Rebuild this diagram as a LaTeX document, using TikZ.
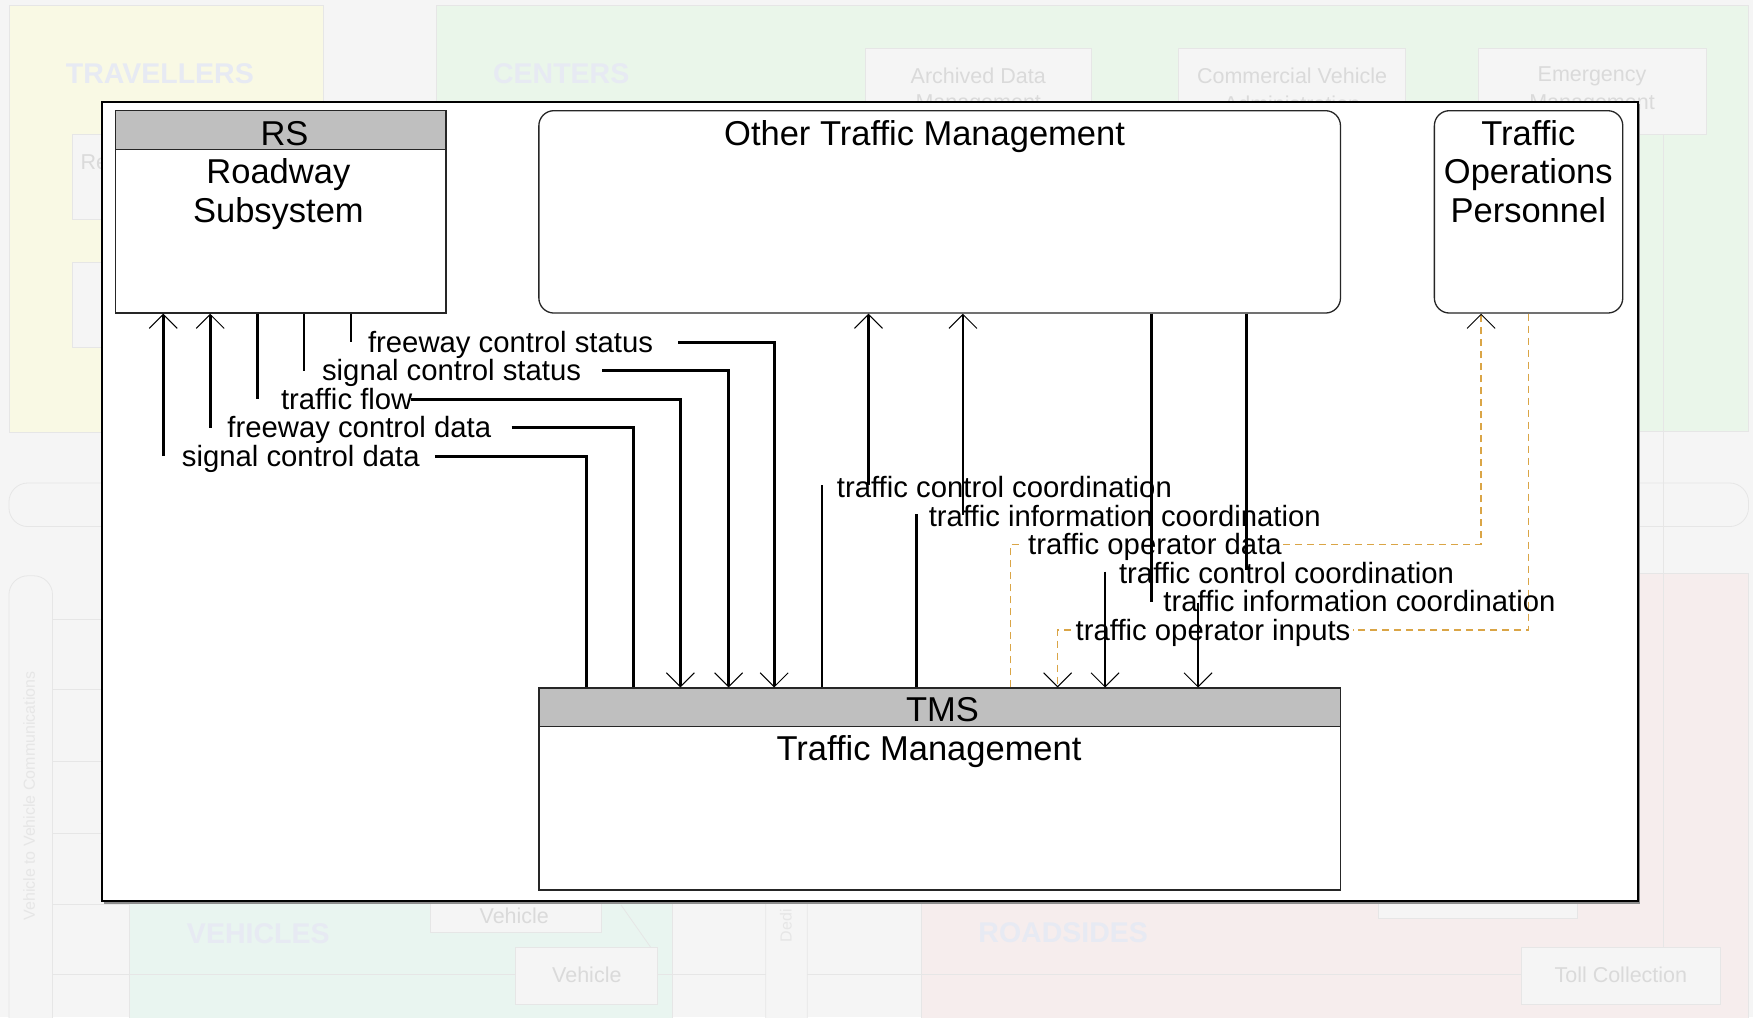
\documentclass[tikz,border=0pt]{standalone}
\usepackage{fontspec}
\setmainfont{Liberation Sans}
\usetikzlibrary{arrows.meta,fit}
\definecolor{pagebg}{RGB}{245,245,245}
\definecolor{travbg}{RGB}{249,249,228}
\definecolor{centbg}{RGB}{234,246,234}
\definecolor{vehbg}{RGB}{233,245,240}
\definecolor{roadbg}{RGB}{246,237,237}
\definecolor{ghostline}{RGB}{230,230,230}
\definecolor{ghosttitle}{RGB}{231,234,243}
\definecolor{ghosttext}{RGB}{218,218,218}
\definecolor{ghostfill}{RGB}{245,245,245}
\definecolor{hdrgray}{RGB}{191,191,191}
\definecolor{opdash}{RGB}{218,165,70}
\newcommand\bigfnt{\fontsize{34.5}{38}\selectfont}
\newcommand\lblfnt{\fontsize{29.3}{32}\selectfont}
\newcommand\ghostfnt{\fontsize{21.5}{25}\selectfont}
\newcommand\barfnt{\fontsize{16}{18}\selectfont}
\newcommand\regionfnt{\fontsize{28.5}{30}\selectfont\bfseries}
\begin{document}
\begin{tikzpicture}[x=1.118pt,y=-1.118pt,
  ghostpanel/.style={draw=ghostline, line width=0.8pt},
  ghostbox/.style={draw=ghostline, fill=ghostfill, line width=0.8pt},
  ghostlbl/.style={text=ghosttext, font=\ghostfnt, inner sep=0pt},
  barlbl/.style={text=ghostline, font=\barfnt, inner sep=0pt},
  regionlbl/.style={text=ghosttitle, font=\regionfnt, inner sep=0pt},
  sysbox/.style={draw=black!85, line width=1.3pt, fill=white, inner sep=0pt},
  termbox/.style={sysbox, rounded corners=15pt},
  hdr/.style={draw=black!85, line width=1.3pt, fill=hdrgray},
  bigtxt/.style={font=\bigfnt, inner sep=0pt, anchor=base},
  lbl/.style={font=\lblfnt, inner sep=0pt, anchor=base west},
  flow/.style={line width=2.8pt, black},
  dflow/.style={line width=1.3pt, opdash, dash pattern=on 7pt off 5pt},
  tipend/.style={-{Straight Barb[length=14pt,width=28pt,line width=1pt,color=black]}},
]
\useasboundingbox (0,0) rectangle (1568,910);
% ---------------- faded background ----------------
\begin{scope}
\clip (0,0) rectangle (1568,910);
\fill[pagebg] (0,0) rectangle (1568,910);
\filldraw[ghostpanel, fill=travbg] (8,5) rectangle (289,387);
\filldraw[ghostpanel, fill=centbg] (390,5) rectangle (1564,386);
\filldraw[ghostpanel, fill=vehbg] (116,515) rectangle (601,915);
\filldraw[ghostpanel, fill=roadbg] (824.5,513) rectangle (1564,915);
\filldraw[ghostpanel, fill=pagebg, rounded corners=19pt] (8,432) rectangle (1564,471);
\foreach \yy in {554,617,681,745,809} \draw[ghostpanel] (47,\yy) -- (116,\yy);
\draw[ghostpanel] (47,871.5) -- (1361,871.5);
\draw[ghostpanel] (1487.6,120) -- (1487.6,848);
\draw[ghostpanel] (555.5,809.5) -- (582.3,847.7);
\filldraw[ghostpanel, fill=pagebg, rounded corners=19pt] (8,515) rectangle (47,940);
\node[barlbl, rotate=90] (v2v) at (26,712) {Vehicle to Vehicle Communications};
\filldraw[ghostpanel, fill=pagebg, rounded corners=18pt] (685,470) rectangle (722,940);
\node[barlbl, rotate=90, anchor=west] (dsrc) at (703,843) {Dedi};
% region titles
\node[regionlbl] (trav) at (143,66) {TRAVELLERS};
\node[regionlbl] (cent) at (502,66) {CENTERS};
\node[regionlbl] (vehs) at (231,835) {VEHICLES};
\node[regionlbl] (roads) at (951,834) {ROADSIDES};
% ghost boxes
\filldraw[ghostbox] (65,120) rectangle (200,196);
\filldraw[ghostbox] (65,235) rectangle (200,311);
\node[ghostlbl, anchor=west] (rts) at (72,145) {Re};
\filldraw[ghostbox] (774,43) rectangle (976,120);
\node[ghostlbl] (adm1) at (875,68) {Archived Data};
\node[ghostlbl] (adm2) at (875,93) {Management};
\filldraw[ghostbox] (1054,43) rectangle (1257.5,120);
\node[ghostlbl] (cva1) at (1155.7,68) {Commercial Vehicle};
\node[ghostlbl] (cva2) at (1155.7,93) {Administration};
\filldraw[ghostbox] (1322,43) rectangle (1526,120);
\node[ghostlbl] (em1) at (1424,68) {Emergency};
\node[ghostlbl] (em2) at (1424,93) {Management};
\filldraw[ghostbox] (384.8,780) rectangle (537.8,834);
\node[ghostlbl] (veh1) at (460,819) {Vehicle};
\filldraw[ghostbox] (461,847.7) rectangle (588,898);
\node[ghostlbl] (veh2) at (524.9,871.5) {Vehicle};
\filldraw[ghostbox] (1233,780) rectangle (1411,821.4);
\filldraw[ghostbox] (1360.8,847.7) rectangle (1538.4,898);
\node[ghostlbl] (toll) at (1449.8,872) {Toll Collection};
\end{scope}
% ---------------- main frame ----------------
\fill[black!45] (93,93) rectangle (1467,808.5);
\node[draw=black, line width=1.8pt, fill=white, inner sep=0pt, fit={(91,91)(1465,806)}] (frame) {};
% ---------------- elements ----------------
\node[sysbox, fit={(103,99)(399,280)}] (rs) {};
\filldraw[hdr] (103,99) rectangle (399,134);
\node[termbox, fit={(482,99)(1199,280)}] (otm) {};
\node[termbox, fit={(1283,99)(1451.5,280)}] (top) {};
\node[sysbox, fit={(482,615.5)(1199,796)}] (tms) {};
\filldraw[hdr] (482,615.5) rectangle (1199,650);
\node[bigtxt] (rsid) at (254.5,130.2) {RS};
\node[bigtxt] (rsn1) at (249,164.5) {Roadway};
\node[bigtxt] (rsn2) at (249,198.8) {Subsystem};
\node[bigtxt] (otmn) at (827,130.2) {Other Traffic Management};
\node[bigtxt] (topn1) at (1367,130.2) {Traffic};
\node[bigtxt] (topn2) at (1367,164.5) {Operations};
\node[bigtxt] (topn3) at (1367,198.8) {Personnel};
\node[bigtxt] (tmsid) at (843,645.5) {TMS};
\node[bigtxt] (tmsn) at (831,680) {Traffic Management};
% ---------------- dashed flows ----------------
\draw[dflow] (904,0 |- tms.north) -- (904,487) -- (914,487);
\draw[dflow, tipend] (1148,487) -- (1324.8,487) -- (1324.8,0 |- top.south);
\draw[dflow] (1367.3,0 |- top.south) -- (1367.3,563.5) -- (1210,563.5);
\draw[dflow, tipend] (958,563.5) -- (946,563.5) -- (946,0 |- tms.north);
% ---------------- labels ----------------
\node[lbl] (fcs) at (329,315.3) {freeway control status};
\node[lbl] (scs) at (287.9,340.7) {signal control status};
\node[lbl] (tfl) at (251.2,366) {traffic flow};
\node[lbl] (fcd) at (203.2,391.6) {freeway control data};
\node[lbl] (scd) at (162.5,417) {signal control data};
\node[lbl] (tcc1) at (748.4,445.1) {traffic control coordination};
\node[lbl] (tic1) at (830.6,470.6) {traffic information coordination};
\node[lbl] (tod) at (919.5,496.1) {traffic operator data};
\node[lbl] (tcc2) at (1000.8,521.6) {traffic control coordination};
\node[lbl] (tic2) at (1040.5,547.1) {traffic information coordination};
\node[lbl] (toi) at (962,572.6) {traffic operator inputs};
% ---------------- solid flows: RS <-> TMS ----------------
\draw[flow, tipend] (146,408) -- (146,0 |- rs.south);
\draw[flow] (389,408) -- (524.7,408) -- (524.7,0 |- tms.north);
\draw[flow, tipend] (188,382.5) -- (188,0 |- rs.south);
\draw[flow] (457.6,382.5) -- (566.6,382.5) -- (566.6,0 |- tms.north);
\draw[flow] (230,0 |- rs.south) -- (230,357);
\draw[flow, tipend] (368,357) -- (608.6,357) -- (608.6,0 |- tms.north);
\draw[flow] (272,0 |- rs.south) -- (272,331.6);
\draw[flow, tipend] (538.5,331.6) -- (651.7,331.6) -- (651.7,0 |- tms.north);
\draw[flow] (314,0 |- rs.south) -- (314,306.2);
\draw[flow, tipend] (606.5,306.2) -- (692.5,306.2) -- (692.5,0 |- tms.north);
% ---------------- solid flows: TMS <-> OTM ----------------
\draw[flow] (735.2,0 |- tms.north) -- (735.2,434);
\draw[flow, tipend] (776.8,434) -- (776.8,0 |- otm.south);
\draw[flow] (819.6,0 |- tms.north) -- (819.6,459.5);
\draw[flow, tipend] (861.3,460.5) -- (861.3,0 |- otm.south);
\draw[flow] (1114.9,0 |- otm.south) -- (1114.9,510);
\draw[flow, tipend] (988.4,511.3) -- (988.4,0 |- tms.north);
\draw[flow] (1030,0 |- otm.south) -- (1030,538.2);
\draw[flow, tipend] (1071.6,539) -- (1071.6,0 |- tms.north);
\end{tikzpicture}
\end{document}
